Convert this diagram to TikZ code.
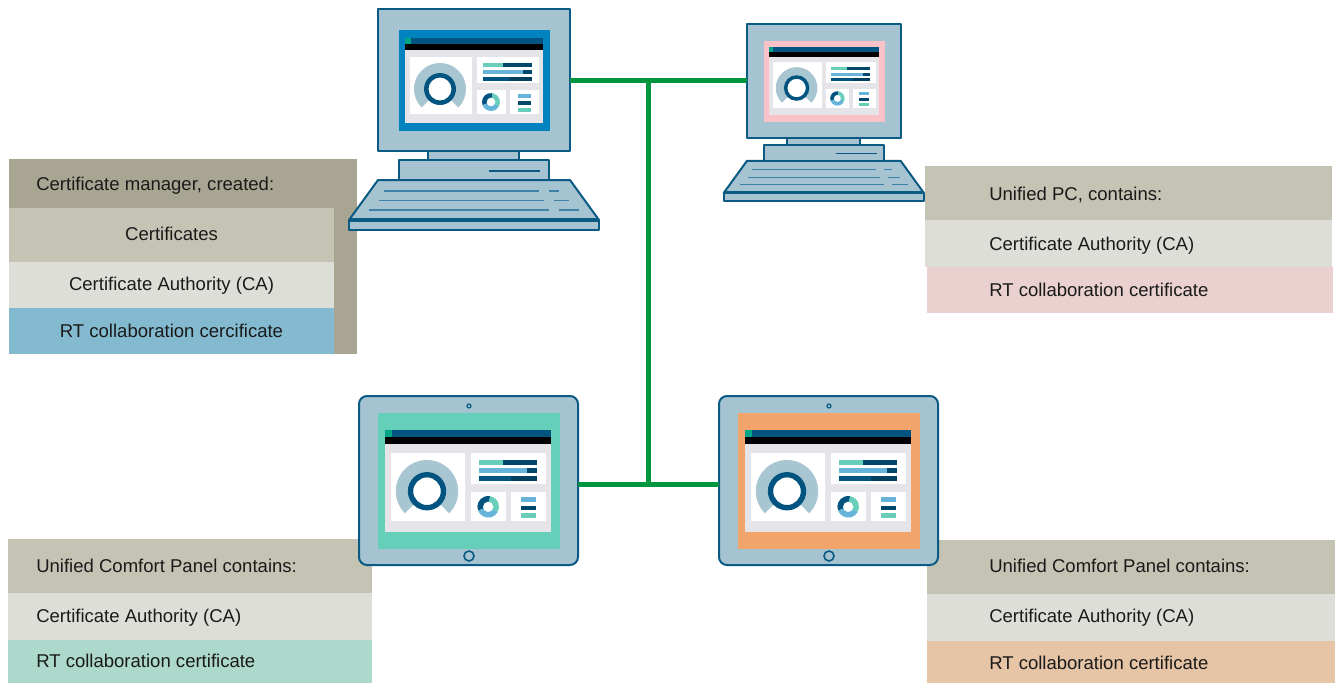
\documentclass[tikz,border=0pt]{standalone}
\usepackage{fontspec}
\setmainfont{Liberation Sans}
\definecolor{devbody}{HTML}{A5C3D0}
\definecolor{devstroke}{HTML}{0B5A84}
\definecolor{keyline}{HTML}{3F82A8}
\definecolor{bezblue}{HTML}{0083BE}
\definecolor{bezpink}{HTML}{F9C2C8}
\definecolor{bezteal}{HTML}{66CFB9}
\definecolor{bezorange}{HTML}{F2A46A}
\definecolor{scrgray}{HTML}{E4E4E9}
\definecolor{titlebar}{HTML}{00547F}
\definecolor{appgreen}{HTML}{00A587}
\definecolor{uiteal}{HTML}{68CEBA}
\definecolor{uilight}{HTML}{66B4DA}
\definecolor{uinavy}{HTML}{00476C}
\definecolor{uidark}{HTML}{003F5E}
\definecolor{gaugec}{HTML}{A8C5D2}
\definecolor{netgreen}{HTML}{00953F}
\definecolor{hdrdark}{HTML}{A8A692}
\definecolor{hdrmid}{HTML}{C4C3B4}
\definecolor{rowlight}{HTML}{DEDED8}
\definecolor{rowblue}{HTML}{83BAD0}
\definecolor{rowpink}{HTML}{EAD1D0}
\definecolor{rowteal}{HTML}{ADD9CC}
\definecolor{roworange}{HTML}{E6C4A6}
\definecolor{txtcol}{HTML}{1A1A1A}
\tikzset{
  devline/.style={draw=devstroke, line width=1.5pt, line join=round},
  txt/.style={anchor=base west, inner sep=0pt, text=txtcol,
    font=\fontsize{13.9}{16}\selectfont},
  txtc/.style={txt, anchor=base},
  net/.style={draw=netgreen, line width=3.75pt},
  % application screen shown on every device
  pics/dashboard/.style={code={
    \fill[scrgray] (0,0) rectangle (138,85);
    \fill[titlebar] (0,0) rectangle (138,6);
    \fill[black] (0,6) rectangle (138,12);
    \fill[appgreen] (0,0) rectangle (6,6);
    % gauge panel
    \fill[white] (5,19) rectangle (67,76);
    \fill[gaugec] (35,51) ++(135:26) arc[start angle=135, end angle=405, radius=26]
      -- ++(225:10) arc[start angle=405, end angle=135, radius=16] -- cycle;
    \fill[titlebar, even odd rule] (35,51) circle (16) (35,51) circle (11.5);
    % bar chart panel
    \fill[white] (72,19) rectangle (134,45);
    \fill[uiteal] (78,25) rectangle (98,29);
    \fill[uinavy] (98,25) rectangle (127,29);
    \fill[uilight] (78,32) rectangle (118,36);
    \fill[uinavy] (118,32) rectangle (127,36);
    \fill[titlebar] (78,38.5) rectangle (105,42.5);
    \fill[uidark] (105,38.5) rectangle (127,42.5);
    % donut panel
    \fill[white] (72,52) rectangle (101,76);
    \fill[titlebar] (86,64) -- ++(160:9) arc[start angle=160, end angle=280, radius=9] -- cycle;
    \fill[uiteal] (86,64) -- ++(-80:9) arc[start angle=-80, end angle=30, radius=9] -- cycle;
    \fill[uilight] (86,64) -- ++(30:9) arc[start angle=30, end angle=160, radius=9] -- cycle;
    \fill[white] (86,64) circle (4.3);
    % legend panel
    \fill[white] (105,52) rectangle (134,76);
    \fill[uilight] (113,56) rectangle (126,60);
    \fill[uinavy] (113,63) rectangle (126,67);
    \fill[uiteal] (113,69.5) rectangle (126,73.5);
  }},
  % desktop PC: monitor, stand and keyboard
  pics/monitor/.style={code={
    \path[devline, fill=devbody] (0,171) -- (192,171) -- (221,211) -- (-29,211) -- cycle;
    \path[devline, fill=devbody] (-29,211) rectangle (221,221);
    \draw[devstroke, line width=2.4pt] (-29,211) -- (221,211);
    \draw[keyline, line width=0.9pt]
      (6,182) -- (161,182) (171,182) -- (181,182)
      (1,191.5) -- (166,191.5) (176,191.5) -- (191,191.5)
      (-9,201) -- (171,201) (181,201) -- (201,201);
    \path[devline, fill=devbody] (50,140) rectangle (141,151);
    \path[devline, fill=devbody] (21,151) rectangle (171,171);
    \draw[devstroke, line width=1pt] (111,162) -- (162,162);
    \path[devline, fill=devbody] (0,0) rectangle (192,142);
    \fill[#1] (21,21) rectangle (172,122);
    \pic[transform shape] at (27,29) {dashboard};
    \coordinate (-w) at (0,71);
    \coordinate (-e) at (192,71);
  }},
  % touch panel
  pics/panel/.style={code={
    \path[devline, fill=devbody, rounded corners=6pt] (0,0) rectangle (219,169);
    \fill[#1] (19,17) rectangle (201,153);
    \pic[transform shape, scale=1.2] at (26,34) {dashboard};
    \draw[devstroke, line width=0.9pt] (110,10) circle (2);
    \draw[devstroke, line width=1.2pt] (110,160) circle (5);
    \coordinate (-w) at (0,88);
    \coordinate (-e) at (219,88);
  }}
}
\begin{document}
\begin{tikzpicture}[x=0.75pt, y=-0.75pt]
\useasboundingbox (0,0) rectangle (1335,683);

% certificate manager box
\fill[hdrdark] (9,159) rectangle (357,354);
\fill[hdrmid] (9,208) rectangle (334,262);
\fill[rowlight] (9,262) rectangle (334,308);
\fill[rowblue] (9,308) rectangle (334,354);
\node[txt] (cmhead) at (36,190) {Certificate manager, created:};
\node[txtc] (cmcert) at (171.5,240) {Certificates};
\node[txtc] (cmca) at (171.5,290) {Certificate Authority (CA)};
\node[txtc] (cmrt) at (171.5,337) {RT collaboration cercificate};

% unified PC box
\fill[hdrmid] (925,166) rectangle (1332,220);
\fill[rowlight] (925,220) rectangle (1332,267);
\fill[rowpink] (927,267) rectangle (1333,313);
\node[txt] (pchead) at (989,200) {Unified PC, contains:};
\node[txt] (pcca) at (989,250.5) {Certificate Authority (CA)};
\node[txt] (pcrt) at (989,296) {RT collaboration certificate};

% comfort panel boxes
\fill[hdrmid] (8,539) rectangle (372,593);
\fill[rowlight] (8,593) rectangle (372,640);
\fill[rowteal] (8,640) rectangle (372,683);
\node[txt] (lphead) at (36,572) {Unified Comfort Panel contains:};
\node[txt] (lpca) at (36,622) {Certificate Authority (CA)};
\node[txt] (lprt) at (36,667) {RT collaboration certificate};

\fill[hdrmid] (927,540) rectangle (1335,594);
\fill[rowlight] (927,594) rectangle (1335,641);
\fill[roworange] (927,641) rectangle (1335,683);
\node[txt] (rphead) at (989,572) {Unified Comfort Panel contains:};
\node[txt] (rpca) at (989,622) {Certificate Authority (CA)};
\node[txt] (rprt) at (989,669) {RT collaboration certificate};

% network
\coordinate (hubtop) at (648,80);
\coordinate (hubbot) at (648,484);
\draw[net] (hubtop) -- (hubbot);

% devices
\pic (pcA) at (378,9) {monitor=bezblue};
\pic[scale=0.8] (pcB) at (747,24) {monitor=bezpink};
\pic (tabL) at (359,396) {panel=bezteal};
\pic (tabR) at (719,396) {panel=bezorange};

\draw[net] (pcA-e |- hubtop) -- (pcB-w |- hubtop);
\draw[net] (tabL-e |- hubbot) -- (tabR-w |- hubbot);
\end{tikzpicture}
\end{document}
